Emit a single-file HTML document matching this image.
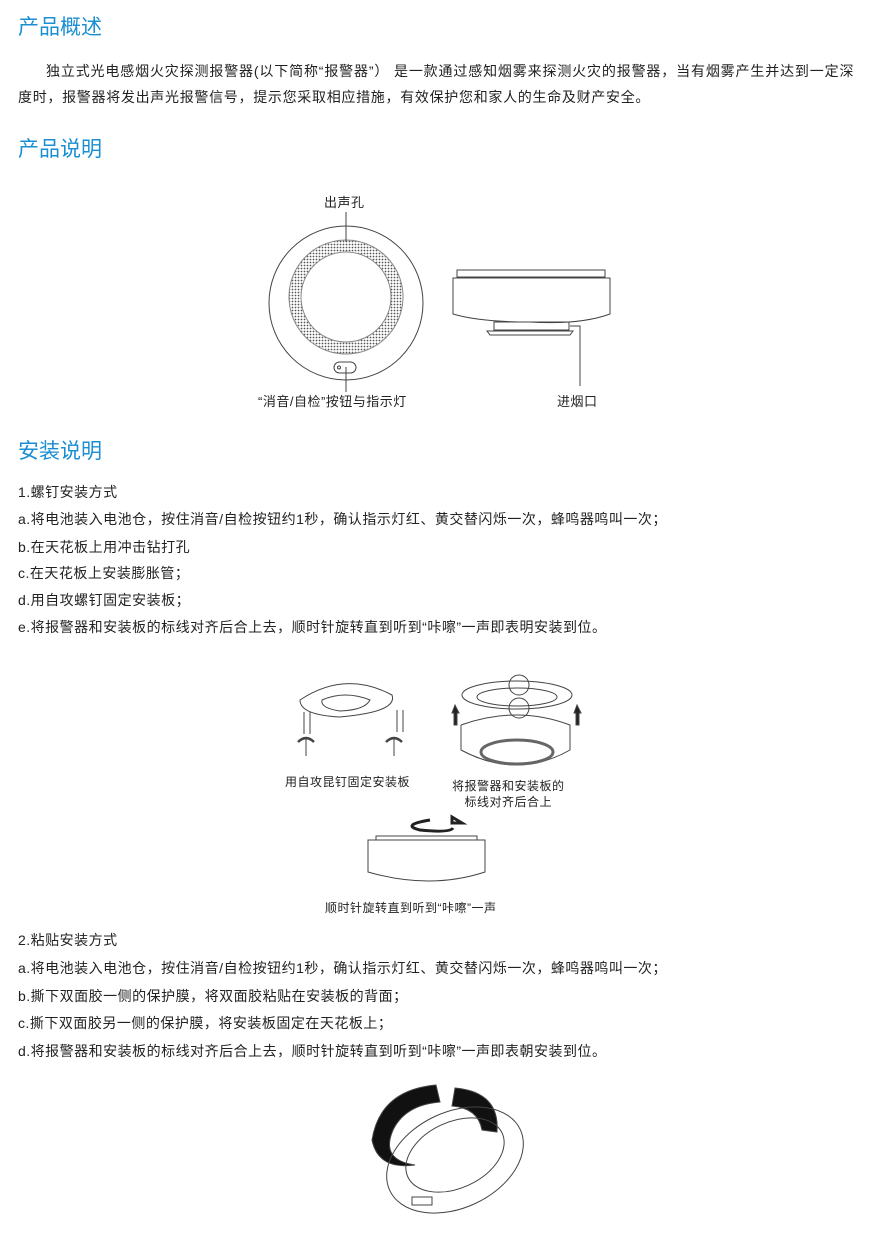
<!DOCTYPE html>
<html><head><meta charset="utf-8"><style>
body{margin:0;width:882px;height:1237px;background:#fff;position:relative;font-family:"Liberation Sans","Noto Sans CJK SC",sans-serif;color:#222;overflow:hidden}
.t{position:absolute;white-space:nowrap;font-size:14px;line-height:16px;letter-spacing:0.5px}
.h{position:absolute;font-size:21px;color:#1a8ed2;line-height:24px}
svg{position:absolute;left:0;top:0}
</style></head><body>
<div class="h" style="left:18px;top:16px">产品概述</div>
<div class="t" style="left:46px;top:63px;letter-spacing:0.85px">独立式光电感烟火灾探测报警器(以下简称“报警器”） 是一款通过感知烟雾来探测火灾的报警器，当有烟雾产生并达到一定深</div>
<div class="t" style="left:18px;top:89px;letter-spacing:0.7px">度时，报警器将发出声光报警信号，提示您采取相应措施，有效保护您和家人的生命及财产安全。</div>
<div class="h" style="left:18px;top:138px">产品说明</div>
<div class="h" style="left:18px;top:440px">安装说明</div>
<div class="t" style="left:18px;top:484px">1.螺钉安装方式</div>
<div class="t" style="left:18px;top:511px">a.将电池装入电池仓，按住消音/自检按钮约1秒，确认指示灯红、黄交替闪烁一次，蜂鸣器鸣叫一次；</div>
<div class="t" style="left:18px;top:539px">b.在天花板上用冲击钻打孔</div>
<div class="t" style="left:18px;top:565px">c.在天花板上安装膨胀管；</div>
<div class="t" style="left:18px;top:592px">d.用自攻螺钉固定安装板；</div>
<div class="t" style="left:18px;top:619px">e.将报警器和安装板的标线对齐后合上去，顺时针旋转直到听到“咔嚓”一声即表明安装到位。</div>
<div class="t" style="left:18px;top:932px">2.粘贴安装方式</div>
<div class="t" style="left:18px;top:960px">a.将电池装入电池仓，按住消音/自检按钮约1秒，确认指示灯红、黄交替闪烁一次，蜂鸣器鸣叫一次；</div>
<div class="t" style="left:18px;top:988px">b.撕下双面胶一侧的保护膜，将双面胶粘贴在安装板的背面；</div>
<div class="t" style="left:18px;top:1015px">c.撕下双面胶另一侧的保护膜，将安装板固定在天花板上；</div>
<div class="t" style="left:18px;top:1043px">d.将报警器和安装板的标线对齐后合上去，顺时针旋转直到听到“咔嚓”一声即表朝安装到位。</div>
<div class="t" style="left:324px;top:195px;font-size:13px">出声孔</div>
<div class="t" style="left:258px;top:394px;font-size:13px">“消音/自检”按钮与指示灯</div>
<div class="t" style="left:557px;top:394px;font-size:13px">进烟口</div>
<div class="t" style="left:285px;top:774px;font-size:12px">用自攻昆钉固定安装板</div>
<div class="t" style="left:452px;top:778px;font-size:12px;text-align:center">将报警器和安装板的<br>标线对齐后合上</div>
<div class="t" style="left:325px;top:900px;font-size:12px">顺时针旋转直到听到“咔嚓”一声</div>
<svg width="882" height="1237" fill="none" stroke="#444" stroke-width="1">
<defs><pattern id="m" width="3" height="3" patternUnits="userSpaceOnUse"><rect width="3" height="3" fill="#fff" stroke="none"/><circle cx="1.5" cy="1.5" r="0.9" fill="#555" stroke="none"/></pattern></defs>
<circle cx="346" cy="303" r="77"/>
<path d="M346 240 a57 57 0 1 0 0.01 0 Z M346 252 a45 45 0 1 1 -0.01 0 Z" fill="url(#m)" fill-rule="evenodd" stroke="#888"/>
<rect x="334" y="362" width="22" height="11" rx="5.5"/>
<circle cx="339" cy="367.5" r="1.5"/>
<line x1="346" y1="212" x2="346" y2="242"/><line x1="346" y1="367" x2="346" y2="392"/>
<rect x="457" y="270" width="148" height="7"/>
<path d="M453 278 H610 V314 Q580 325 530 322 Q480 322 453 314 Z"/>
<rect x="494" y="322" width="75" height="8"/>
<path d="M487 331 H573 L570 335 H490 Z"/>
<path d="M570 326 H580 V386"/>
<path d="M300 700 Q345 670 392 695 Q398 712 340 717 Q300 715 300 700 Z"/>
<path d="M322 700 Q345 690 370 700 Q365 710 340 711 Q320 708 322 700Z"/>
<path d="M304 712 v22 M310 712 v22 M397 710 v22 M403 710 v22"/>
<path d="M298 742 q8 -8 16 0 M386 742 q8 -8 16 0" stroke-width="2.5"/>
<path d="M306 738 v18 M394 738 v18"/>
<ellipse cx="517" cy="695" rx="55" ry="14"/><ellipse cx="517" cy="697" rx="40" ry="9"/>
<circle cx="519" cy="685" r="10"/><circle cx="519" cy="708" r="10"/>
<path d="M461 725 V750 Q517 780 570 750 V725 Q517 705 461 725"/>
<ellipse cx="517" cy="752" rx="36" ry="12" stroke-width="3" stroke="#666"/>
<path d="M455 705 l-3 8 h2 v12 h3 v-12 h2 Z M577 705 l-3 8 h2 v12 h3 v-12 h2 Z" fill="#222"/>
<path d="M430 820 Q400 825 420 830 Q450 833 453 828 M452 823 l10 0 -10 -6 z" stroke-width="3" stroke="#222"/>
<path d="M368 840 H485 V872 Q430 890 368 872 Z"/>
<path d="M376 836 H477 V840 H376 Z"/>
<path d="M436 1085 Q380 1090 372 1140 Q378 1170 415 1165 Q380 1160 393 1130 Q405 1105 440 1102 Z" fill="#111"/>
<path d="M455 1088 Q500 1092 497 1132 L482 1130 Q478 1108 452 1106 Z" fill="#111"/>
<ellipse cx="455" cy="1160" rx="72" ry="48" transform="rotate(-25 455 1160)"/>
<ellipse cx="455" cy="1155" rx="52" ry="33" transform="rotate(-25 455 1155)"/>
<rect x="412" y="1197" width="20" height="8"/>
</svg>
</body></html>
